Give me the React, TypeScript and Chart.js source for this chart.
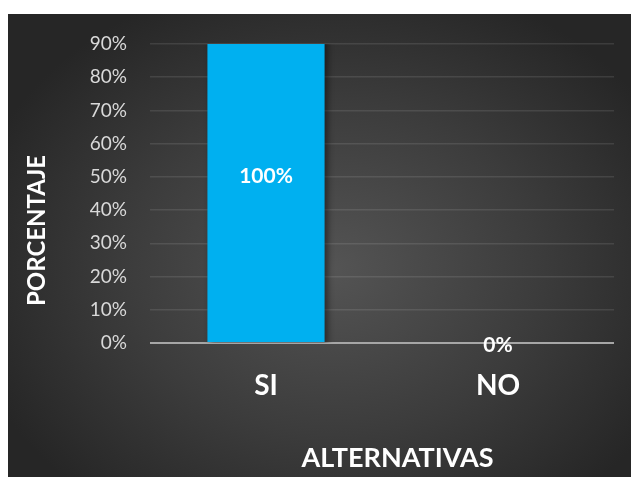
import React, { useEffect, useRef } from "react";
import { Chart, registerables } from "chart.js";

Chart.register(...registerables);

const categories = ["SI", "NO"];
const seriesValues = [100, 0];
const seriesLabels = ["100%", "0%"];
const yTicks = [0, 10, 20, 30, 40, 50, 60, 70, 80, 90];
const xTitle = "ALTERNATIVAS";
const yTitle = "PORCENTAJE";

const FONT = "Lato, 'Open Sans', 'Liberation Sans', sans-serif";

export default function App() {
  const ref = useRef<HTMLCanvasElement | null>(null);

  useEffect(() => {
    if (!ref.current) return;

    const shadowPlugin = {
      id: "barShadow",
      beforeDatasetsDraw(chart: any) {
        const ctx = chart.ctx;
        ctx.save();
        ctx.shadowColor = "rgba(0,0,0,0.45)";
        ctx.shadowBlur = 6;
        ctx.shadowOffsetX = 3;
        ctx.shadowOffsetY = 2;
      },
      afterDatasetsDraw(chart: any) {
        const ctx = chart.ctx;
        ctx.restore();
        const meta = chart.getDatasetMeta(0);
        ctx.save();
        ctx.fillStyle = "#ffffff";
        ctx.font = `bold 21px ${FONT}`;
        ctx.textAlign = "center";
        ctx.textBaseline = "middle";
        meta.data.forEach((el: any, i: number) => {
          const cy = (el.y + el.base) / 2 + (seriesValues[i] === 0 ? 2 : 0);
          ctx.fillText(seriesLabels[i], el.x, cy);
        });
        ctx.restore();
      },
      afterDraw(chart: any) {
        const ctx = chart.ctx;
        ctx.save();
        ctx.fillStyle = "#ffffff";
        ctx.textAlign = "center";
        ctx.textBaseline = "middle";
        ctx.font = `bold 27px ${FONT}`;
        ctx.fillText(xTitle, 389.5, 444);
        ctx.translate(29.5, 216.5);
        ctx.rotate(-Math.PI / 2);
        ctx.font = `bold 24px ${FONT}`;
        ctx.fillText(yTitle, 0, 0);
        ctx.restore();
      },
    };

    const chart = new Chart(ref.current, {
      type: "bar",
      data: {
        labels: categories,
        datasets: [
          {
            data: seriesValues,
            backgroundColor: "#00B0F0",
            borderWidth: 0,
            barPercentage: 1,
            categoryPercentage: 0.505,
          },
        ],
      },
      options: {
        responsive: false,
        animation: false,
        layout: { padding: { top: 30, right: 17, left: 0, bottom: 0 } },
        plugins: {
          legend: { display: false },
          tooltip: { enabled: false },
          title: { display: false },
        },
        scales: {
          x: {
            grid: { display: false, drawTicks: false },
            border: { display: false },
            ticks: {
              color: "#ffffff",
              font: { family: FONT, size: 28, weight: "bold" },
              padding: 26,
            },
            afterFit(scale: any) {
              scale.height = 134;
            },
          },
          y: {
            min: 0,
            max: 90,
            afterBuildTicks(scale: any) {
              scale.ticks = yTicks.map((v) => ({ value: v }));
            },
            grid: {
              drawTicks: false,
              color: (ctx: any) =>
                ctx.tick && ctx.tick.value === 0 ? "#a6a6a6" : "rgba(255,255,255,0.1)",
              lineWidth: (ctx: any) => (ctx.tick && ctx.tick.value === 0 ? 2 : 1.5),
            },
            border: { display: false },
            ticks: {
              color: "#d9d9d9",
              font: { family: FONT, size: 19 },
              padding: 23,
              callback: (v: any) => v + "%",
            },
            afterFit(scale: any) {
              scale.width = 142;
              scale.paddingTop = 0;
              scale.paddingBottom = 0;
            },
          },
        },
      },
      plugins: [shadowPlugin],
    } as any);

    return () => chart.destroy();
  }, []);

  return (
    <div
      style={{
        position: "fixed",
        left: 8,
        top: 14,
        width: 623,
        height: 463,
        background:
          "radial-gradient(ellipse 60% 65% at 52% 55%, #545454 0%, #3c3c3c 55%, #262626 100%)",
      }}
    >
      <canvas ref={ref} width={623} height={463} style={{ display: "block" }} />
    </div>
  );
}
